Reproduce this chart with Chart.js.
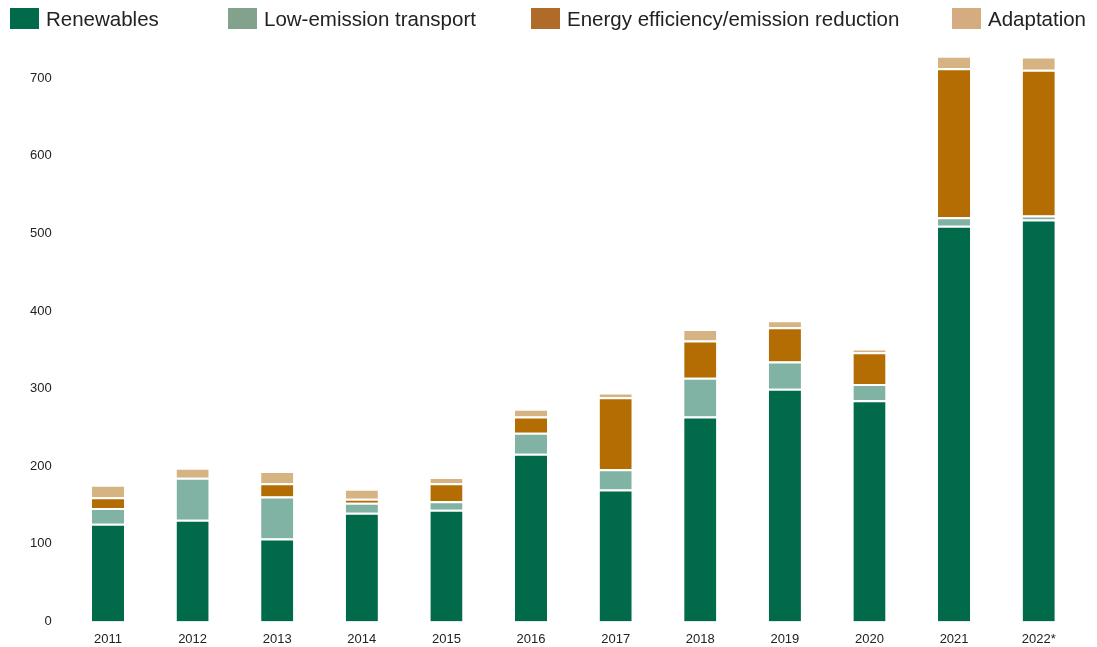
<!DOCTYPE html>
<html>
<head>
<meta charset="utf-8">
<script src="https://cdn.jsdelivr.net/npm/chart.js@4/dist/chart.umd.min.js"></script>
<style>
  html, body { margin: 0; padding: 0; background: #fff; }
  #wrap { width: 1097px; height: 647px; position: relative; }
  #legend { position: absolute; left: 0; top: 0; width: 1097px; height: 38px; }
  .item { position: absolute; top: 8px; display: flex; align-items: center; height: 21px;
          font-family: 'Liberation Sans', Arial, sans-serif; font-size: 20.5px; color: #222; white-space: nowrap; }
  .box { width: 29px; height: 21px; margin-right: 7px; }
</style>
</head>
<body>
<div id="wrap"><canvas id="chart"></canvas><div id="legend"></div></div>
<script>
const years = ['2011', '2012', '2013', '2014', '2015', '2016', '2017', '2018', '2019', '2020', '2021', '2022*'];
const renewables = [126, 131, 107, 140, 144, 216, 170, 264, 300, 285, 510, 518];
const transport = [20, 54, 54, 13, 11, 27, 26, 50, 35, 21, 11, 5];
const efficiency = [14, 0, 17, 5, 23, 21, 93, 48, 44, 41, 192, 188];
const adaptation = [16, 13, 16, 13, 8, 10, 6, 15, 9, 4, 16, 17];
const yTicks = [0, 100, 200, 300, 400, 500, 600, 700];

const seriesNames = ['Renewables', 'Low-emission transport', 'Energy efficiency/emission reduction', 'Adaptation'];
const barColors = ['#006a4a', '#80b3a3', '#b36d02', '#d6b383'];
const legendColors = ['#006a4a', '#82a28d', '#b06a2a', '#d5ac80'];
const legendLeft = [10, 228, 531, 952];

const seriesData = [renewables, transport, efficiency, adaptation];

const ctx = document.getElementById('chart').getContext('2d');
const chart = new Chart(ctx, {
  type: 'bar',
  data: {
    labels: years,
    datasets: seriesData.map((d, i) => ({
      label: seriesNames[i],
      data: d,
      backgroundColor: barColors[i],
      borderColor: '#ffffff',
      borderWidth: { top: 2, bottom: 0, left: 0, right: 0 },
      borderSkipped: false,
      barPercentage: 0.76,
      categoryPercentage: 0.5
    }))
  },
  options: {
    responsive: true,
    maintainAspectRatio: false,
    animation: false,
    layout: { padding: { left: 24, right: 16, top: 55, bottom: -2 } },
    plugins: {
      tooltip: { enabled: false },
      legend: { display: false }
    },
    scales: {
      x: {
        stacked: true,
        grid: { display: false },
        border: { display: false },
        ticks: {
          color: '#222',
          font: { family: 'Liberation Sans, Arial, sans-serif', size: 13 },
          padding: 2
        }
      },
      y: {
        stacked: true,
        min: 0,
        max: 730,
        grid: { display: false },
        border: { display: false },
        afterBuildTicks: axis => { axis.ticks = yTicks.map(v => ({ value: v })); },
        ticks: {
          color: '#222',
          font: { family: 'Liberation Sans, Arial, sans-serif', size: 13 },
          padding: 6
        }
      }
    }
  }
});

// html legend built from the chart's datasets
const legend = document.getElementById('legend');
chart.data.datasets.forEach((ds, i) => {
  const item = document.createElement('div');
  item.className = 'item';
  item.style.left = legendLeft[i] + 'px';
  const box = document.createElement('span');
  box.className = 'box';
  box.style.background = legendColors[i];
  item.appendChild(box);
  item.appendChild(document.createTextNode(ds.label));
  legend.appendChild(item);
});
</script>
</body>
</html>
